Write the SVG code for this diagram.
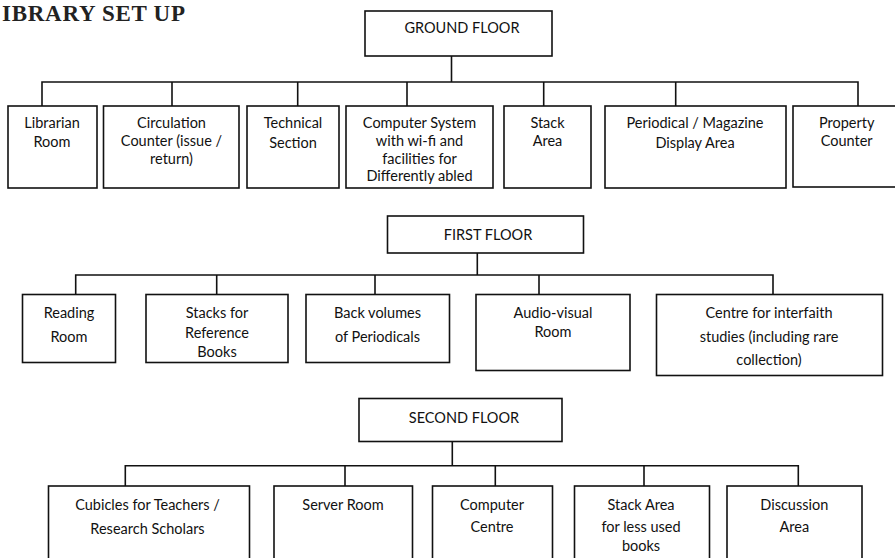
<svg xmlns="http://www.w3.org/2000/svg" width="895" height="558" viewBox="0 0 895 558">
<style>
.box{fill:#fff;stroke:#111;stroke-width:1.6}
.con{fill:none;stroke:#111;stroke-width:1.6}
text{font-family:Lato,"Liberation Sans",sans-serif;font-size:14.5px;fill:#111;text-anchor:middle}
.title{font-family:"Liberation Serif",serif;font-size:23px;font-weight:bold;text-anchor:start;fill:#222}
</style>
<rect width="895" height="558" fill="#fff"/>
<text class="title" x="2" y="20.5" textLength="183" lengthAdjust="spacing">IBRARY SET UP</text>
<g id="connectors">
<path class="con" d="M451.5 56V82M42 106V82H858V106M172 82V106M297.7 82V106M407 82V106M543.7 82V106M675.7 82V106"/>
<path class="con" d="M477.3 253V275M75.7 294.5V275H773V294.5M216.7 275V294.5M375 275V294.5M539 275V294.5"/>
<path class="con" d="M452.3 441.7V465.7M125.3 486V465.7H798.3V486M345 465.7V486M495.3 465.7V486M644 465.7V486"/>
</g>
<g id="ground-floor"><rect class="box" x="365" y="11" width="187" height="45"/><text x="462" y="33">GROUND FLOOR</text></g>
<g id="librarian-room"><rect class="box" x="8" y="106" width="89" height="82"/><text x="52" y="128">Librarian</text><text x="52" y="147">Room</text></g>
<g id="circulation-counter"><rect class="box" x="103.5" y="106" width="135.5" height="82"/><text x="171.5" y="128">Circulation</text><text x="171.5" y="146">Counter (issue /</text><text x="171.5" y="164">return)</text></g>
<g id="technical-section"><rect class="box" x="247" y="106" width="92" height="82"/><text x="293" y="127.5">Technical</text><text x="293" y="148">Section</text></g>
<g id="computer-system"><rect class="box" x="346" y="106" width="147" height="82"/><text x="419.5" y="127.5">Computer System</text><text x="419.5" y="145.5">with wi-fi and</text><text x="419.5" y="163.5">facilities for</text><text x="419.5" y="181">Differently abled</text></g>
<g id="stack-area-gf"><rect class="box" x="504" y="106" width="87" height="82"/><text x="547.5" y="128">Stack</text><text x="547.5" y="146">Area</text></g>
<g id="periodical-display"><rect class="box" x="605" y="106" width="181" height="82"/><text x="695" y="128">Periodical / Magazine</text><text x="695" y="147.5">Display Area</text></g>
<g id="property-counter"><rect class="box" x="793" y="106" width="108" height="81"/><text x="846.7" y="128">Property</text><text x="846.7" y="146">Counter</text></g>
<g id="first-floor"><rect class="box" x="387.5" y="216" width="196" height="37"/><text x="488" y="240">FIRST FLOOR</text></g>
<g id="reading-room"><rect class="box" x="22.5" y="294.5" width="93" height="68"/><text x="69" y="318">Reading</text><text x="69" y="341.5">Room</text></g>
<g id="stacks-reference"><rect class="box" x="146" y="294.5" width="142" height="68"/><text x="217" y="318">Stacks for</text><text x="217" y="337.5">Reference</text><text x="217" y="356.5">Books</text></g>
<g id="back-volumes"><rect class="box" x="306" y="294.5" width="143.5" height="68"/><text x="377.5" y="318">Back volumes</text><text x="377.5" y="341.5">of Periodicals</text></g>
<g id="audio-visual"><rect class="box" x="476" y="294.5" width="154" height="76"/><text x="553" y="318">Audio-visual</text><text x="553" y="337">Room</text></g>
<g id="interfaith-centre"><rect class="box" x="656.5" y="294.5" width="226" height="81"/><text x="769" y="318">Centre for interfaith</text><text x="769" y="342">studies (including rare</text><text x="769" y="365">collection)</text></g>
<g id="second-floor"><rect class="box" x="359" y="398.5" width="203" height="43"/><text x="464" y="422.5">SECOND FLOOR</text></g>
<g id="cubicles"><rect class="box" x="48.5" y="486" width="201" height="90"/><text x="147.5" y="510">Cubicles for Teachers /</text><text x="147.5" y="534">Research Scholars</text></g>
<g id="server-room"><rect class="box" x="274" y="486" width="138.5" height="90"/><text x="343" y="510">Server Room</text></g>
<g id="computer-centre"><rect class="box" x="432.5" y="486" width="120" height="90"/><text x="492" y="510">Computer</text><text x="492" y="531.5">Centre</text></g>
<g id="stack-area-sf"><rect class="box" x="574.5" y="486" width="135" height="90"/><text x="641" y="510">Stack Area</text><text x="641" y="531.5">for less used</text><text x="641" y="551">books</text></g>
<g id="discussion-area"><rect class="box" x="727" y="486" width="135" height="90"/><text x="794.3" y="510">Discussion</text><text x="794.3" y="531.5">Area</text></g>
</svg>
